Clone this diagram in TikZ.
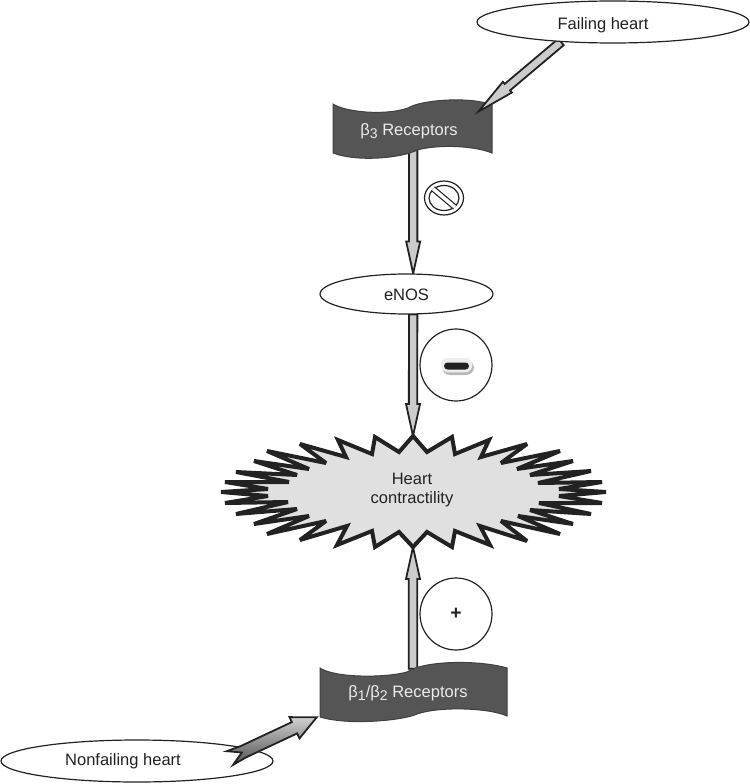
\documentclass[tikz,border=0pt]{standalone}
\usepackage{fontspec}
\setmainfont{Liberation Sans}
\usetikzlibrary{calc,backgrounds,shapes.geometric}
\definecolor{inkdark}{HTML}{222222}
\definecolor{bannergray}{HTML}{555555}
\definecolor{burstgray}{HTML}{E0E0E0}
\definecolor{shaftgray}{HTML}{CCCCCC}
\newcommand{\lowdigit}[1]{\raisebox{-0.35ex}{\fontsize{8}{8}\selectfont #1}}
\begin{document}
\begin{tikzpicture}
	[x=0.02cm, y=-0.02cm, font=\fontsize{9.4}{11.3}\selectfont, text=inkdark,
	oval/.style ={ellipse, draw=inkdark, line width=0.024cm, fill=white, inner sep=0pt},
	badge/.style ={circle, draw=inkdark, line width=0.024cm, minimum size=1.44cm, inner sep=0pt},
	banner/.style ={fill=bannergray, draw=black!75, line width=0.02cm},
	bannerlabel/.style ={text=white!92!black, inner sep=0pt},
	pill/.style ={rectangle, inner sep=0pt},
	widearrow/.style ={draw=inkdark, fill=shaftgray, line width=0.036cm, to path={
		($(\tikztostart)!0.084cm!90:(\tikztotarget)$)
		-- ($(\tikztotarget)!#1!(\tikztostart)!0.084cm!90:(\tikztotarget)$)
		-- ($(\tikztotarget)!#1!(\tikztostart)!0.14cm!90:(\tikztotarget)$)
		-- (\tikztotarget)
		-- ($(\tikztotarget)!#1!(\tikztostart)!0.14cm!-90:(\tikztotarget)$)
		-- ($(\tikztotarget)!#1!(\tikztostart)!0.084cm!-90:(\tikztotarget)$)
		-- ($(\tikztostart)!0.084cm!-90:(\tikztotarget)$) -- cycle}},
	tailarrow/.style ={draw=inkdark, line width=0.036cm, bottom color=black!68, top color=black!18, to path={
		(\tikztotarget)
		-- ($(\tikztotarget)!0.49cm!(\tikztostart)!0.235cm!90:(\tikztotarget)$)
		-- ($(\tikztotarget)!0.49cm!(\tikztostart)!0.125cm!90:(\tikztotarget)$)
		-- ($(\tikztostart)!0.3cm!(\tikztotarget)!0.125cm!90:(\tikztotarget)$)
		-- ($(\tikztostart)!0.15cm!90:(\tikztotarget)$)
		-- ($(\tikztostart)!0.26cm!(\tikztotarget)$)
		-- ($(\tikztostart)!0.15cm!-90:(\tikztotarget)$)
		-- ($(\tikztostart)!0.3cm!(\tikztotarget)!0.125cm!-90:(\tikztotarget)$)
		-- ($(\tikztotarget)!0.49cm!(\tikztostart)!0.125cm!-90:(\tikztotarget)$)
		-- ($(\tikztotarget)!0.49cm!(\tikztostart)!0.235cm!-90:(\tikztotarget)$)
		-- cycle}}]
	\useasboundingbox (0,0) rectangle (750,784);

	% ovals
	\node [oval, minimum width=5.44cm, minimum height=0.84cm] (failing) at (613,22) {};
	\node [inner sep=0pt] (failinglabel) at (603,25) {Failing heart};
	\node [oval, minimum width=3.46cm, minimum height=0.8cm] (enos) at (406.5,294) {};
	\node [inner sep=0pt] (enoslabel) at (406.5,295) {eNOS};
	\node [oval, minimum width=5.44cm, minimum height=0.84cm] (nonfailing) at (137,761) {};
	\node [inner sep=0pt] (nonfailinglabel) at (123,761) {Nonfailing heart};

	% the burst
	\draw [draw=inkdark, fill=burstgray, line width=0.08cm, miter limit=4]
		(413,436) coordinate (bursttop) -- (427,452) -- (452,437) -- (455,454) -- (489,440) -- (481,457)
		-- (527,444) -- (501,463) -- (560,451) -- (517,469) -- (573,461) -- (530,475) -- (591,471)
		-- (538,483) -- (602,482) -- (559,489) -- (606,492) -- (559,496) -- (602,503) -- (539,503)
		-- (591,514) -- (530,510) -- (573,524) -- (518,516) -- (560,534) -- (501,521) -- (527,541)
		-- (480,526) -- (490,545) -- (455,531) -- (452,547) -- (427,532) -- (413,547) coordinate (burstbottom)
		-- (399,532) -- (375,547) -- (372,531) -- (337,545) -- (347,526) -- (300,540) -- (326,521)
		-- (267,534) -- (309,516) -- (254,524) -- (297,509) -- (236,514) -- (288,502) -- (225,503)
		-- (268,496) -- (221,492) -- (268,489) -- (225,482) -- (289,482) -- (236,472) -- (297,475)
		-- (254,461) -- (309,469) -- (267,451) -- (326,463) -- (300,444) -- (346,457) -- (338,440)
		-- (372,454) -- (375,437) -- (399,452) -- cycle;
	\node [align=center, inner sep=0pt] (contractility) at (412,490) {Heart\\contractility};

	% receptor labels sit on the banners drawn below
	\node [bannerlabel, minimum width=2.76cm, minimum height=0.76cm] (betathree) at (409,131) {β\lowdigit{3} Receptors};
	\node [bannerlabel, minimum width=3.64cm, minimum height=0.96cm] (betaone) at (408,693) {β\lowdigit{1}/β\lowdigit{2} Receptors};

	\begin{scope}[on background layer]
		\draw [widearrow=0.64cm] (enos.72 |- betathree.south) to (enos.72);
		\draw [widearrow=0.64cm] (enos.-72) to (bursttop);
		\draw [widearrow=0.64cm] (burstbottom |- betaone.north) to (burstbottom);
		\draw [banner] (333,104) .. controls (345,112) and (385,116) .. (408,108)
			.. controls (420,100) and (470,96) .. (492,105) -- (492,153)
			.. controls (475,146) and (440,144) .. (417,150)
			.. controls (405,157) and (360,163) .. (333,153) -- cycle;
		\draw [banner] (320,668) .. controls (335,678) and (385,678) .. (407,672)
			.. controls (425,660) and (480,660) .. (507,668) -- (507,716)
			.. controls (490,708) and (440,706) .. (417,714)
			.. controls (405,720) and (350,726) .. (320,717) -- cycle;
		\draw [widearrow=0.76cm] (failing.201) to (betathree.north east);
	\end{scope}

	\coordinate (nonfailingtail) at (230,758);
	\draw [tailarrow] (nonfailingtail) to (betaone.south west);

	% no-entry sign
	\node [ellipse, draw=inkdark, line width=0.024cm, minimum width=0.78cm, minimum height=0.68cm, inner sep=0pt] (noentry) at (444,198) {};
	\node [ellipse, draw=inkdark, line width=0.024cm, minimum width=0.6cm, minimum height=0.5cm, inner sep=0pt] (noentryinner) at (444,198) {};
	\draw [draw=inkdark, line width=0.024cm, double=white, double distance=0.07cm] (noentryinner.140) -- (noentryinner.-40);

	% minus and plus
	\node [badge] (minusbadge) at (456,365) {};
	\node [pill, fill=black!28, rounded corners=0.16cm, minimum width=0.64cm, minimum height=0.3cm] (minusshade) at (458,367.5) {};
	\node [pill, fill=black!7, rounded corners=0.15cm, minimum width=0.64cm, minimum height=0.29cm] (minuspale) at (456.5,365) {};
	\node [pill, fill=inkdark, rounded corners=0.07cm, minimum width=0.5cm, minimum height=0.14cm] (minusbar) at (456.5,366) {};
	\node [badge, font=\fontsize{11}{12}\selectfont\bfseries] (plusbadge) at (456,614) {+};
\end{tikzpicture}
\end{document}
